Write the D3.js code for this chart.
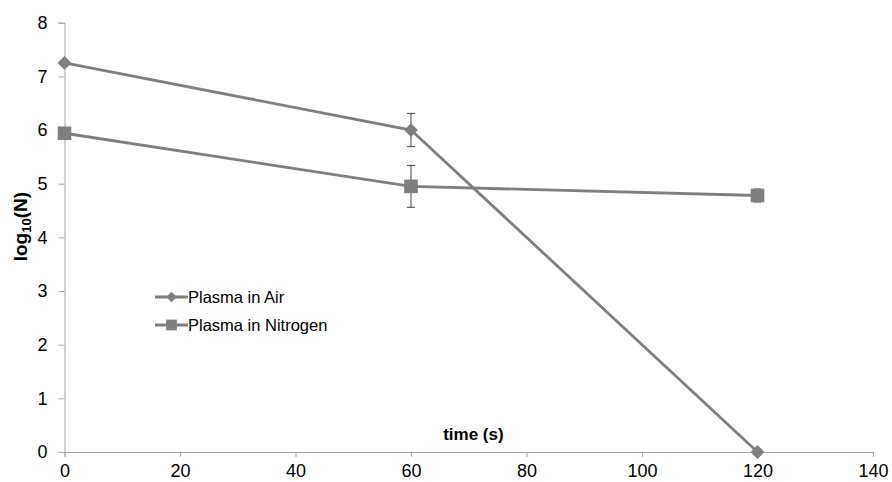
<!DOCTYPE html>
<html>
<head>
<meta charset="utf-8">
<script src="https://cdn.jsdelivr.net/npm/d3@7"></script>
<style>
  html, body { margin: 0; padding: 0; background: #fff; }
  svg { display: block; font-family: "Liberation Sans", Arial, sans-serif; }
</style>
</head>
<body>
<svg id="chart" width="892" height="482"></svg>
<script>
// Survival after plasma treatment: time in seconds vs log10 of colony count
const times = [0, 60, 120];
const airValues = [7.25, 6.0, 0.0];
const airErrors = [0.05, 0.31, 0.05];
const nitrogenValues = [5.94, 4.95, 4.78];
const nitrogenErrors = [0.05, 0.39, 0.12];
const xTicks = [0, 20, 40, 60, 80, 100, 120, 140];
const yTicks = [0, 1, 2, 3, 4, 5, 6, 7, 8];
const seriesNames = ["Plasma in Air", "Plasma in Nitrogen"];

const svg = d3.select("#chart");
const margin = { left: 64.5, right: 19, top: 22.7, bottom: 30 };
const W = 892, H = 482;

const x = d3.scaleLinear().domain([0, 140]).range([margin.left, W - margin.right]);
const y = d3.scaleLinear().domain([0, 8]).range([H - margin.bottom, margin.top]);

const axisColor = "#a6a6a6";
const markColor = "#7f7f7f";

// Axes
const xAxis = svg.append("g")
  .attr("transform", `translate(0,${y(0)})`)
  .call(d3.axisBottom(x).tickValues(xTicks).tickSize(5).tickPadding(7));
const yAxis = svg.append("g")
  .attr("transform", `translate(${x(0)},0)`)
  .call(d3.axisLeft(y).tickValues(yTicks).tickSize(6).tickPadding(11));

[xAxis, yAxis].forEach(g => {
  g.select(".domain").attr("stroke", axisColor).attr("stroke-width", 1);
  g.selectAll(".tick line").attr("stroke", axisColor).attr("stroke-width", 1);
  g.selectAll(".tick text")
    .attr("fill", "#000")
    .style("font-size", "18px")
    .style("font-family", "'Liberation Sans', Arial, sans-serif");
});

// Axis titles
const yTitle = svg.append("text")
  .attr("transform", `translate(27,${y(4.2)}) rotate(-90)`)
  .attr("text-anchor", "middle")
  .style("font-size", "19px")
  .style("font-weight", "bold");
yTitle.append("tspan").text("log");
yTitle.append("tspan").attr("dy", 4).style("font-size", "13px").text("10");
yTitle.append("tspan").attr("dy", -4).text("(N)");

svg.append("text")
  .attr("x", x(70.8))
  .attr("y", y(0.22))
  .attr("text-anchor", "middle")
  .style("font-size", "17px")
  .style("font-weight", "bold")
  .text("time (s)");

const line = d3.line().x(d => x(d.t)).y(d => y(d.v));

// Diamonds are drawn as squares turned by 45 degrees
const series = [
  { name: seriesNames[0], values: airValues, errors: airErrors, shape: d3.symbolSquare, rot: 45, size: 95, legendSize: 55 },
  { name: seriesNames[1], values: nitrogenValues, errors: nitrogenErrors, shape: d3.symbolSquare, rot: 0, size: 185, legendSize: 115 }
];

series.forEach(s => {
  const pts = times.map((t, i) => ({ t, v: s.values[i], e: s.errors[i] }));
  svg.append("path")
    .datum(pts)
    .attr("d", line)
    .attr("fill", "none")
    .attr("stroke", markColor)
    .attr("stroke-width", 2.8);

  // error bars
  const eb = svg.append("g").selectAll("g").data(pts).join("g");
  eb.append("line")
    .attr("x1", d => x(d.t)).attr("x2", d => x(d.t))
    .attr("y1", d => y(d.v + d.e)).attr("y2", d => y(d.v - d.e))
    .attr("stroke", "#404040").attr("stroke-width", 1);
  [1, -1].forEach(sign => {
    eb.append("line")
      .attr("x1", d => x(d.t) - 4).attr("x2", d => x(d.t) + 4)
      .attr("y1", d => y(d.v + sign * d.e)).attr("y2", d => y(d.v + sign * d.e))
      .attr("stroke", "#404040").attr("stroke-width", 1);
  });

  svg.append("g").selectAll("path").data(pts).join("path")
    .attr("transform", d => `translate(${x(d.t)},${y(d.v)}) rotate(${s.rot})`)
    .attr("d", d3.symbol().type(s.shape).size(s.size))
    .attr("fill", markColor);
});

// Legend
const legend = svg.append("g").attr("transform", "translate(155,297)");
series.forEach((s, i) => {
  const g = legend.append("g").attr("transform", `translate(0,${i * 28})`);
  g.append("line").attr("x1", 0).attr("x2", 33).attr("y1", 0).attr("y2", 0)
    .attr("stroke", markColor).attr("stroke-width", 2.8);
  g.append("path")
    .attr("transform", `translate(16.5,0) rotate(${s.rot})`)
    .attr("d", d3.symbol().type(s.shape).size(s.legendSize))
    .attr("fill", markColor);
  g.append("text")
    .attr("x", 33).attr("y", 6)
    .style("font-size", "16.5px")
    .attr("fill", "#000")
    .text(s.name);
});
</script>
</body>
</html>
